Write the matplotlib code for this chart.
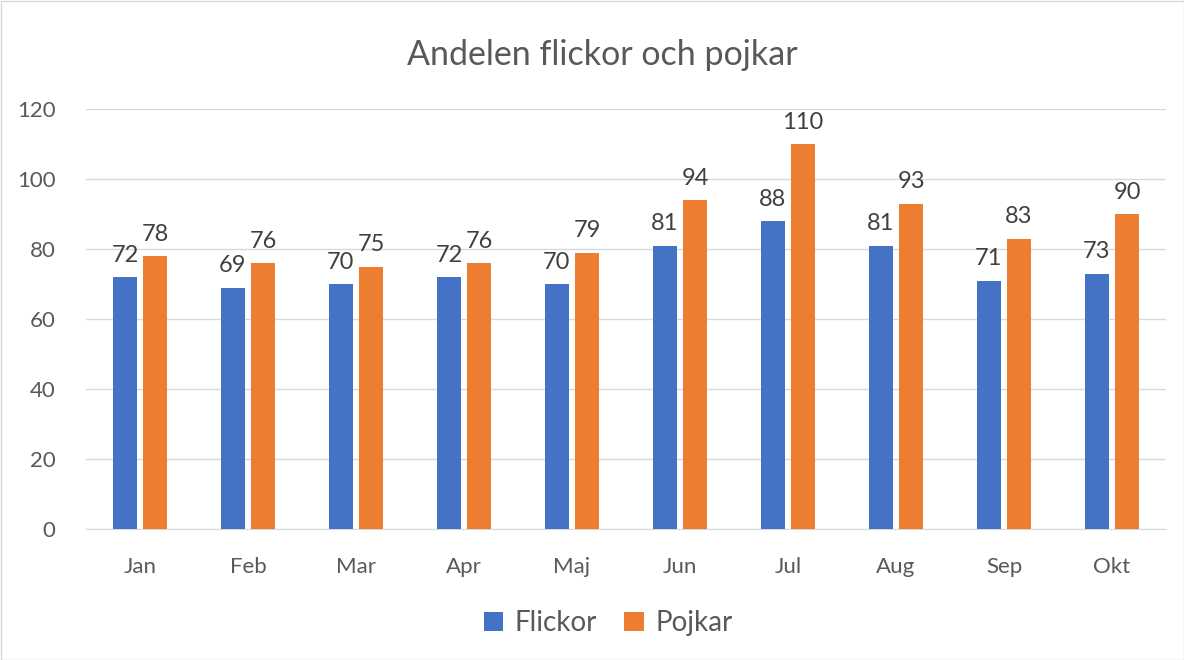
import numpy as np
import matplotlib
matplotlib.use('Agg')
import matplotlib.pyplot as plt
from matplotlib.patches import Rectangle

# data
months = ['Jan', 'Feb', 'Mar', 'Apr', 'Maj', 'Jun', 'Jul', 'Aug', 'Sep', 'Okt']
flickor = [72, 69, 70, 72, 70, 81, 88, 81, 71, 73]
pojkar = [78, 76, 75, 76, 79, 94, 110, 93, 83, 90]

blue = '#4472C4'
orange = '#ED7D31'
txt = '#595959'

plt.rcParams['font.family'] = ['Lato', 'DejaVu Sans']

fig = plt.figure(figsize=(11.84, 6.6), dpi=100)
ax = fig.add_axes([86/1184, 1-529/660, 1080/1184, 420/660])

x = np.arange(len(months))
w = 0.225
b1 = ax.bar(x - 0.14, flickor, w, color=blue, label='Flickor', zorder=3)
b2 = ax.bar(x + 0.14, pojkar, w, color=orange, label='Pojkar', zorder=3)

for bars in (b1, b2):
    for r in bars:
        ax.annotate(str(int(r.get_height())), (r.get_x() + r.get_width()/2, r.get_height()),
                    xytext=(0, 8), textcoords='offset points', ha='center', va='bottom',
                    fontsize=17, color='#404040')

ax.set_xlim(-0.5, len(months) - 0.5)
ax.set_ylim(0, 120)
ax.set_yticks(range(0, 121, 20))
ax.set_xticks(x)
ax.set_xticklabels(months)
ax.yaxis.grid(True, color='#D9D9D9', linewidth=1, zorder=0)
for s in ['top', 'right', 'left']:
    ax.spines[s].set_visible(False)
ax.spines['bottom'].set_color('#D9D9D9')
ax.tick_params(axis='both', length=0, colors=txt, labelsize=16)
ax.tick_params(axis='x', pad=20)
ax.tick_params(axis='y', pad=22)

fig.text(602/1184, 1-55/660, 'Andelen flickor och pojkar', ha='center', va='center',
         fontsize=24.5, color=txt)

fig.legend(handles=[b1, b2], loc='center', bbox_to_anchor=(608/1184, 1-623/660),
           ncol=2, frameon=False, fontsize=20, handlelength=0.7, handleheight=0.7,
           columnspacing=1.0, handletextpad=0.4, labelcolor=txt)

fig.patches.append(Rectangle((0.5/1184, 0.5/660), 1 - 1/1184, 1 - 1/660, transform=fig.transFigure,
                             fill=False, edgecolor='#D9D9D9', linewidth=1))

fig.savefig('out.png', dpi=100)
